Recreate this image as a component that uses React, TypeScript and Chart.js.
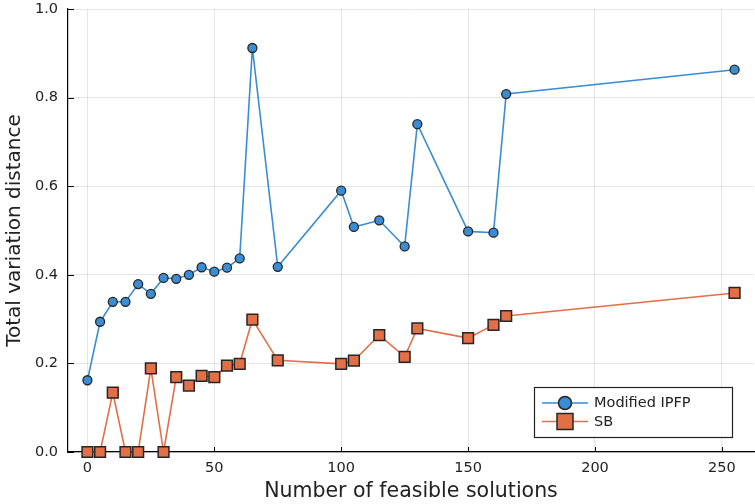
import React, { useEffect, useRef } from "react";
import { Chart, registerables } from "chart.js";

Chart.register(...registerables);

const xValues = [0, 5, 10, 15, 20, 25, 30, 35, 40, 45, 50, 55, 60, 65, 75, 100, 105, 115, 125, 130, 150, 160, 165, 255];
const ipfpValues = [0.162, 0.294, 0.339, 0.339, 0.379, 0.357, 0.393, 0.391, 0.4, 0.417, 0.407, 0.416, 0.437, 0.912, 0.418, 0.59, 0.508, 0.523, 0.464, 0.74, 0.498, 0.495, 0.808, 0.863];
const sbValues = [0, 0, 0.134, 0, 0, 0.189, 0, 0.169, 0.15, 0.172, 0.169, 0.195, 0.199, 0.299, 0.207, 0.199, 0.206, 0.264, 0.215, 0.279, 0.257, 0.287, 0.307, 0.359];
const xTicks = [0, 50, 100, 150, 200, 250];
const yTicks = [0, 0.2, 0.4, 0.6, 0.8, 1.0];
const seriesNames = ["Modified IPFP", "SB"];
const xTitle = "Number of feasible solutions";
const yTitle = "Total variation distance";

const BLUE = "#3a8dd2";
const ORANGE = "#e26f46";
const EDGE = "#262626";
const FONT = "'DejaVu Sans', sans-serif";

const innerTicks = {
  id: "innerTicks",
  beforeDatasetsDraw(chart: any) {
    const ctx = chart.ctx;
    const xs = chart.scales.x;
    const ys = chart.scales.y;
    const area = chart.chartArea;
    ctx.save();
    ctx.strokeStyle = "#000";
    ctx.lineWidth = 1;
    ctx.beginPath();
    xs.ticks.forEach((t: any) => {
      const px = Math.round(xs.getPixelForValue(t.value)) + 0.5;
      ctx.moveTo(px, area.bottom);
      ctx.lineTo(px, area.bottom - 5);
    });
    ys.ticks.forEach((t: any) => {
      const py = Math.round(ys.getPixelForValue(t.value)) + 0.5;
      ctx.moveTo(area.left, py);
      ctx.lineTo(area.left + 6, py);
    });
    ctx.stroke();
    ctx.restore();
  },
};

const legendBox = {
  id: "legendBox",
  afterDraw(chart: any) {
    const ctx = chart.ctx;
    const area = chart.chartArea;
    const bx = area.right - 220;
    const by = area.bottom - 65;
    const bw = 198;
    const bh = 50;
    ctx.save();
    ctx.fillStyle = "#fff";
    ctx.fillRect(bx, by, bw, bh);
    ctx.strokeStyle = "#222";
    ctx.lineWidth = 1.2;
    ctx.strokeRect(bx + 0.5, by + 0.5, bw, bh);
    const rows = [
      { name: seriesNames[0], color: BLUE, shape: "circle", y: by + 16 },
      { name: seriesNames[1], color: ORANGE, shape: "rect", y: by + 34.5 },
    ];
    rows.forEach((r) => {
      ctx.strokeStyle = r.color;
      ctx.lineWidth = 1.5;
      ctx.beginPath();
      ctx.moveTo(bx + 8, r.y);
      ctx.lineTo(bx + 54, r.y);
      ctx.stroke();
      ctx.fillStyle = r.color;
      ctx.strokeStyle = EDGE;
      ctx.lineWidth = 1.5;
      const cx = bx + 31;
      ctx.beginPath();
      if (r.shape === "circle") {
        ctx.arc(cx, r.y, 6.5, 0, Math.PI * 2);
      } else {
        ctx.rect(cx - 8, r.y - 8, 16, 16);
      }
      ctx.fill();
      ctx.stroke();
      ctx.fillStyle = "#222";
      ctx.font = `14.5px ${FONT}`;
      ctx.textBaseline = "middle";
      ctx.textAlign = "left";
      ctx.fillText(r.name, bx + 60, r.y + 0.5);
    });
    ctx.restore();
  },
};

export default function App() {
  const canvasRef = useRef<HTMLCanvasElement | null>(null);

  useEffect(() => {
    const canvas = canvasRef.current;
    if (!canvas) return;
    const chart = new Chart(canvas, {
      type: "scatter",
      data: {
        datasets: [
          {
            label: seriesNames[0],
            data: xValues.map((x, i) => ({ x, y: ipfpValues[i] })),
            showLine: true,
            borderColor: BLUE,
            borderWidth: 1.6,
            backgroundColor: BLUE,
            pointBackgroundColor: BLUE,
            pointBorderColor: EDGE,
            pointBorderWidth: 1.3,
            pointRadius: 4.5,
            pointStyle: "circle",
            clip: false as any,
          },
          {
            label: seriesNames[1],
            data: xValues.map((x, i) => ({ x, y: sbValues[i] })),
            showLine: true,
            borderColor: ORANGE,
            borderWidth: 1.6,
            backgroundColor: ORANGE,
            pointBackgroundColor: ORANGE,
            pointBorderColor: EDGE,
            pointBorderWidth: 1.5,
            pointRadius: 7.6,
            pointStyle: "rect",
            clip: false as any,
          },
        ],
      },
      options: {
        responsive: false,
        animation: false,
        devicePixelRatio: 1,
        layout: { autoPadding: false, padding: { top: 9, right: 1, bottom: 0, left: 0 } },
        plugins: {
          legend: { display: false },
          tooltip: { enabled: false },
        },
        scales: {
          x: {
            type: "linear",
            min: -7.65,
            max: 262.65,
            afterBuildTicks: (scale: any) => {
              scale.ticks = xTicks.map((v) => ({ value: v }));
            },
            afterFit: (scale: any) => {
              scale.height = 52;
              scale.paddingLeft = 0;
              scale.paddingRight = 0;
            },
            ticks: {
              color: "#222",
              font: { family: FONT, size: 14.5 },
              padding: 8,
              maxRotation: 0,
              autoSkip: false,
              callback: (v: any) => String(v),
            },
            grid: {
              color: "rgba(0,0,0,0.1)",
              lineWidth: 1,
              drawTicks: false,
            },
            border: { display: true, color: "#000", width: 1.2 },
            title: {
              display: true,
              text: xTitle,
              color: "#222",
              font: { family: FONT, size: 20.5 },
              padding: { top: 0, bottom: 0 },
            },
          },
          y: {
            type: "linear",
            min: 0,
            max: 1,
            afterBuildTicks: (scale: any) => {
              scale.ticks = yTicks.map((v) => ({ value: v }));
            },
            afterFit: (scale: any) => {
              scale.width = 68;
              scale.paddingTop = 0;
              scale.paddingBottom = 0;
            },
            ticks: {
              color: "#222",
              font: { family: FONT, size: 14.5 },
              padding: 10,
              autoSkip: false,
              callback: (v: any) => Number(v).toFixed(1),
            },
            grid: {
              color: "rgba(0,0,0,0.1)",
              lineWidth: 1,
              drawTicks: false,
            },
            border: { display: true, color: "#000", width: 1.2 },
            title: {
              display: true,
              text: yTitle,
              color: "#222",
              font: { family: FONT, size: 20 },
              padding: { top: 3, bottom: 0 },
            },
          },
        },
      },
      plugins: [innerTicks, legendBox],
    });
    return () => chart.destroy();
  }, []);

  return (
    <div style={{ position: "fixed", left: 0, top: 0, width: 755, height: 504, background: "#fff" }}>
      <canvas ref={canvasRef} width={755} height={504} style={{ display: "block" }} />
    </div>
  );
}
